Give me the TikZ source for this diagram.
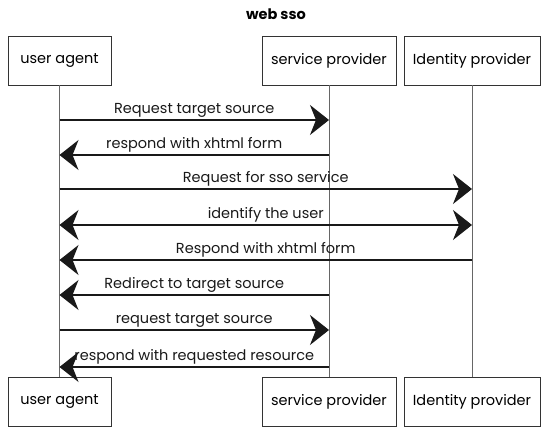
\documentclass[tikz,border=0pt]{standalone}
\usepackage{fontspec}
\setmainfont{Poppins}
\usetikzlibrary{arrows.meta,positioning}

\begin{document}
\begin{tikzpicture}[x=1pt,y=1pt,>={Stealth[length=19pt,width=30pt,inset=6pt]},
    font=\fontsize{14.5}{17}\selectfont,
    actor/.style={draw=black!80,line width=0.9pt,minimum height=49pt,inner sep=2pt},
    lifeline/.style={draw=black!60,line width=0.9pt},
    msg/.style={black!90,line width=1.1pt},
    lbl/.style={above=2.5pt,inner sep=0pt}]
  \useasboundingbox (0,0) rectangle (541,-427);

  \node (title) at (276,-14) {\bfseries web sso};

  % participants, head and foot
  \node[actor,minimum width=103pt] (ua)   at (59.5,-60.5)  {user agent};
  \node[actor,minimum width=134pt] (sp)   at (329,-60.5)   {service provider};
  \node[actor,minimum width=136pt] (idp)  at (472,-60.5)   {Identity provider};
  \node[actor,minimum width=103pt] (uab)  at (59.5,-401.5) {user agent};
  \node[actor,minimum width=134pt] (spb)  at (329,-401.5)  {service provider};
  \node[actor,minimum width=136pt] (idpb) at (472,-401.5)  {Identity provider};

  \draw[lifeline] (ua) -- (uab);
  \draw[lifeline] (sp) -- (spb);
  \draw[lifeline] (idp) -- (idpb);

  % one row of points per message
  \foreach \i/\y in {1/120,2/155,3/189,4/225,5/260,6/295,7/330,8/367}
    \path (ua |- 0,-\y) coordinate (ua-\i)
          (sp |- 0,-\y) coordinate (sp-\i)
          (idp |- 0,-\y) coordinate (idp-\i);

  \path [msg,->]
    (ua-1)  edge node[lbl] {Request target source} (sp-1)
    (sp-2)  edge node[lbl] {respond with xhtml form} (ua-2)
    (ua-3)  edge node[lbl] {Request for sso service} (idp-3)
    (ua-4)  edge [<->] node[lbl] {identify the user} (idp-4)
    (idp-5) edge node[lbl] {Respond with xhtml form} (ua-5)
    (sp-6)  edge node[lbl] {Redirect to target source} (ua-6)
    (ua-7)  edge node[lbl] {request target source} (sp-7)
    (sp-8)  edge node[lbl] {respond with requested resource} (ua-8);
\end{tikzpicture}
\end{document}
